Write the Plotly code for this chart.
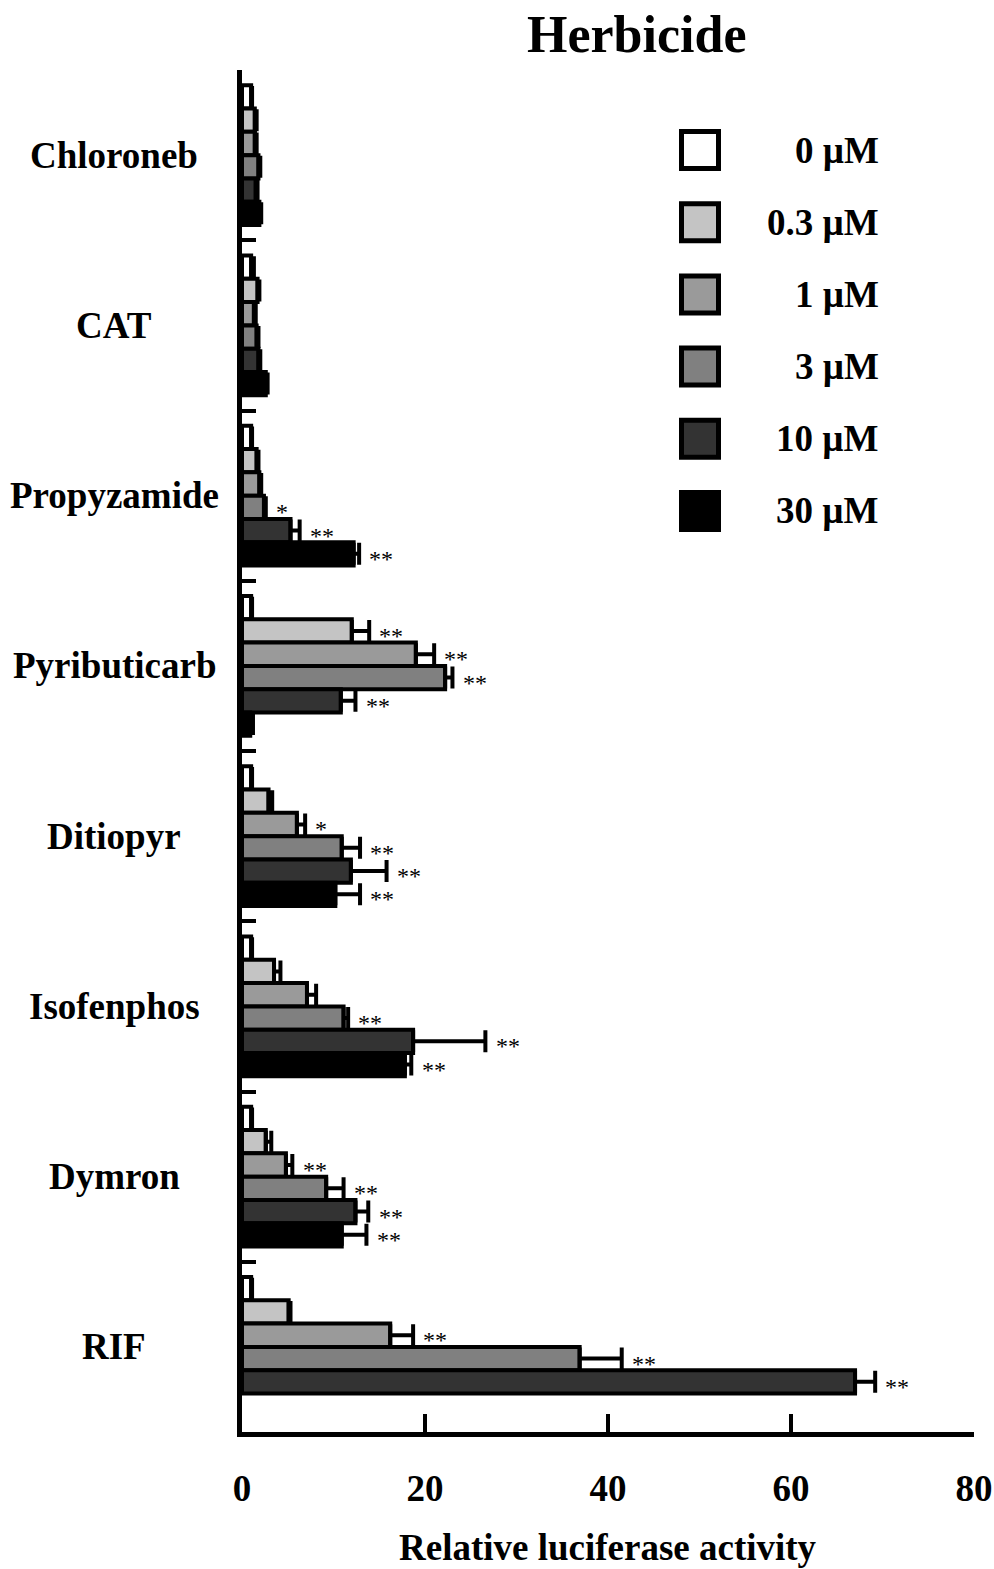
import plotly.graph_objects as go

# ---------------- data ----------------
categories = ["Chloroneb", "CAT", "Propyzamide", "Pyributicarb",
              "Ditiopyr", "Isofenphos", "Dymron", "RIF"]
series_names = ["0 \u00b5M", "0.3 \u00b5M", "1 \u00b5M", "3 \u00b5M", "10 \u00b5M", "30 \u00b5M"]

v_0 = [1.0, 1.0, 1.0, 1.0, 1.0, 1.0, 1.0, 1.0]
v_03 = [1.4, 1.7, 1.6, 12.0, 2.9, 3.5, 2.6, 5.1]
v_1 = [1.4, 1.3, 1.9, 19.0, 6.0, 7.1, 4.8, 16.2]
v_3 = [1.8, 1.6, 2.4, 22.2, 10.9, 11.1, 9.2, 36.9]
v_10 = [1.5, 1.8, 5.3, 10.8, 11.9, 18.7, 12.4, 67.0]
v_30 = [1.9, 2.6, 12.2, 0.9, 10.2, 17.8, 10.9, None]

e_0 = [0.1, 0.3, 0.1, 0.1, 0.1, 0.1, 0.1, 0.1]
e_03 = [0.2, 0.2, 0.2, 1.9, 0.4, 0.7, 0.6, 0.2]
e_1 = [0.2, 0.2, 0.2, 2.0, 0.9, 1.0, 0.7, 2.5]
e_3 = [0.2, 0.2, 0.2, 0.8, 2.0, 0.5, 1.9, 4.6]
e_10 = [0.2, 0.2, 1.0, 1.6, 3.9, 7.9, 1.4, 2.2]
e_30 = [0.2, 0.2, 0.6, 0.3, 2.7, 0.7, 2.7, None]

s_0 = ["", "", "", "", "", "", "", ""]
s_03 = ["", "", "", "**", "", "", "", ""]
s_1 = ["", "", "", "**", "*", "", "**", "**"]
s_3 = ["", "", "*", "**", "**", "**", "**", "**"]
s_10 = ["", "", "**", "**", "**", "**", "**", "**"]
s_30 = ["", "", "**", "", "**", "**", "**", ""]

x_ticks = [0, 20, 40, 60, 80]

# ---------------- style ----------------
colors = ["#ffffff", "#c4c4c4", "#9a9a9a", "#808080", "#333333", "#000000"]
FONT = "Liberation Serif"
W, H = 994, 1569
ML, MR, MT, MB = 242, 20, 70, 137
BARGAP = 0.18
STAR_GAP = 0.9

values = [v_0, v_03, v_1, v_3, v_10, v_30]
errors = [e_0, e_03, e_1, e_3, e_10, e_30]
stars = [s_0, s_03, s_1, s_3, s_10, s_30]
n_series = len(series_names)

fig = go.Figure()
for j, name in enumerate(series_names):
    fig.add_trace(go.Bar(
        y=categories, x=values[j], orientation="h", name=name,
        marker=dict(color=colors[j], line=dict(color="black", width=4)),
        error_x=dict(type="data", symmetric=False, array=errors[j],
                     arrayminus=[0] * len(categories),
                     color="black", thickness=4, width=11),
        showlegend=False,
    ))

pw = W - ML - MR
ph = H - MT - MB


def px_x(px):
    return (px - ML) / pw


def px_y(py):
    return (H - MB - py) / ph


annotations = []
shapes = []

# significance stars (placed at the grouped-bar slot of each series)
bw = (1 - BARGAP) / n_series
for j in range(n_series):
    for i, c in enumerate(categories):
        st = stars[j][i]
        if not st or values[j][i] is None:
            continue
        annotations.append(dict(
            x=values[j][i] + (errors[j][i] or 0) + STAR_GAP, xref="x",
            y=i + (j - (n_series - 1) / 2) * bw, yref="y",
            text=st, showarrow=False, xanchor="left", yanchor="middle",
            yshift=-5,
            font=dict(family=FONT, size=24, color="black")))

# category labels
for c in categories:
    annotations.append(dict(
        x=px_x(114), xref="paper", y=c, yref="y", text=c, showarrow=False,
        xanchor="center", yanchor="middle",
        font=dict(family=FONT, size=37, color="black", weight="bold")))

# title
annotations.append(dict(
    x=px_x(637), xref="paper", y=px_y(35), yref="paper", text="Herbicide",
    showarrow=False, xanchor="center", yanchor="middle",
    font=dict(family=FONT, size=52, color="black", weight="bold")))

# x axis title
annotations.append(dict(
    x=0.5, xref="paper", y=px_y(1547), yref="paper",
    text="Relative luciferase activity", showarrow=False,
    xanchor="center", yanchor="middle",
    font=dict(family=FONT, size=37, color="black", weight="bold")))

# custom legend
leg_y0, leg_dy, sq = 150, 72.2, 37
for j, name in enumerate(series_names):
    cy = leg_y0 + j * leg_dy
    shapes.append(dict(
        type="rect", xref="paper", yref="paper",
        x0=px_x(700 - sq / 2), x1=px_x(700 + sq / 2),
        y0=px_y(cy + sq / 2), y1=px_y(cy - sq / 2),
        fillcolor=colors[j], line=dict(color="black", width=5)))
    annotations.append(dict(
        x=px_x(881), xref="paper", y=px_y(cy), yref="paper", text=name,
        showarrow=False, xanchor="right", yanchor="middle",
        font=dict(family=FONT, size=37, color="black", weight="bold")))

fig.update_layout(
    width=W, height=H,
    margin=dict(l=ML, r=MR, t=MT, b=MB, autoexpand=False),
    paper_bgcolor="white", plot_bgcolor="white",
    barmode="group", bargap=BARGAP, bargroupgap=0.0,
    annotations=annotations, shapes=shapes,
    xaxis=dict(range=[0, 80], tickvals=x_ticks, ticktext=[str(t) for t in x_ticks],
               ticks="inside", ticklen=18, tickwidth=4, tickcolor="black",
               showline=True, linewidth=5, linecolor="black", automargin=False,
               showgrid=False, zeroline=False, ticklabelstandoff=20,
               tickfont=dict(family=FONT, size=37, color="black", weight="bold")),
    yaxis=dict(type="category", categoryorder="array", categoryarray=categories,
               autorange="reversed", tickson="boundaries", automargin=False,
               ticks="inside", ticklen=14, tickwidth=4, tickcolor="black",
               showline=True, linewidth=5, linecolor="black",
               showgrid=False, zeroline=False, showticklabels=False),
)

fig.write_html("out.html", config={"displayModeBar": False},
               post_script="document.body.style.margin='0px';"
                           "document.body.style.overflow='hidden';")
